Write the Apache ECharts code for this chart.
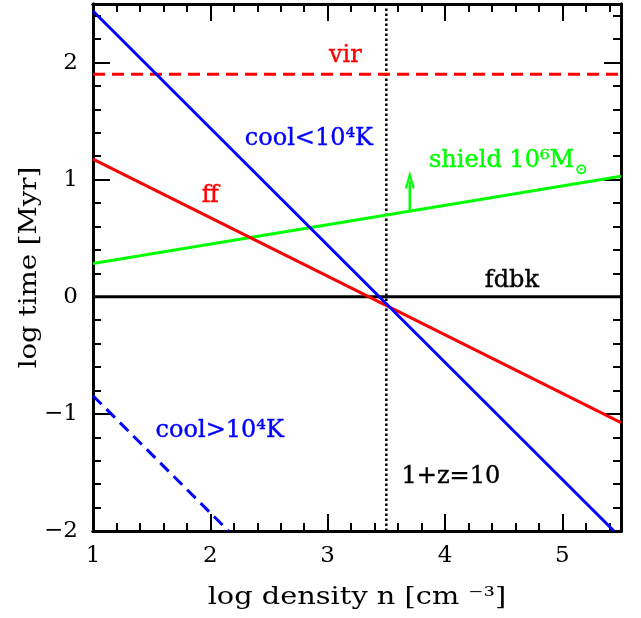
<!DOCTYPE html>
<html>
<head>
<meta charset="utf-8">
<script src="https://cdn.jsdelivr.net/npm/echarts@6/dist/echarts.min.js"></script>
<style>
html, body { margin: 0; background: #fff; }
#main { width: 641px; height: 618px; }
</style>
</head>
<body>
<div id="main"></div>
<script>
// log density (x) and log time (y) values
var xTicks = [1, 2, 3, 4, 5];
var yTicks = [-2, -1, 0, 1, 2];

var fullX = [1, 5.5];
var virTime = [1.9, 1.9];
var fdbkTime = [0, 0];
var ffTime = [1.176, -1.074];
var shieldTime = [0.285, 1.03];
var coolBelowX = [1, 5.44];
var coolBelowTime = [2.44, -2.0];
var coolAboveX = [1, 2.155];
var coolAboveTime = [-0.845, -2.0];
var redshiftX = [3.5, 3.5];
var redshiftTime = [-2, 2.5];
var arrowX = [3.7, 3.7];
var arrowTime = [0.74, 0.985];

var labelText = ['vir', 'cool<10⁴K', 'ff', 'shield', 'fdbk', 'cool>10⁴K', '1+z=10'];
var labelX = [3.15, 2.84, 2.0, 4.54, 4.57, 2.08, 4.05];
var labelY = [2.06, 1.35, 0.86, 1.165, 0.14, -1.14, -1.54];
var labelColor = ['#ff0000', '#0000ff', '#ff0000', '#00ff00', '#000000', '#0000ff', '#000000'];

var xTitle = 'log density n [cm ⁻³]';
var yTitle = 'log time [Myr]';

var FONT = 'DejaVu Serif';

function pairs(xs, ys) {
    return xs.map(function (x, i) { return [x, ys[i]]; });
}

function tickLabel(v) {
    if (xTicks.indexOf(v) < 0 && yTicks.indexOf(v) < 0) return '';
    return v < 0 ? '\u2212' + Math.abs(v) : String(v);
}

function makeAxis(dim, pos, major, showLabel) {
    return {
        type: 'value',
        position: pos,
        gridIndex: 0,
        min: dim === 'x' ? 1 : -2,
        max: dim === 'x' ? 5.5 : 2.5,
        interval: major ? 1 : 0.2,
        axisLine: { show: true, onZero: false, lineStyle: { color: '#000', width: 3 } },
        axisTick: { show: true, inside: true, length: major ? 17 : 8, lineStyle: { color: '#000', width: 2 } },
        axisLabel: {
            show: showLabel, formatter: tickLabel, color: '#000',
            fontFamily: FONT, fontSize: 23, margin: dim === 'x' ? 14 : 15
        },
        splitLine: { show: false }
    };
}

var xAxes = [
    makeAxis('x', 'bottom', true, true),
    makeAxis('x', 'top', true, false),
    makeAxis('x', 'bottom', false, false),
    makeAxis('x', 'top', false, false)
];
var yAxes = [
    makeAxis('y', 'left', true, true),
    makeAxis('y', 'right', true, false),
    makeAxis('y', 'left', false, false),
    makeAxis('y', 'right', false, false)
];

function lineSeries(data, color, width, type) {
    return {
        type: 'line',
        data: data,
        xAxisIndex: 0,
        yAxisIndex: 0,
        symbol: 'none',
        silent: true,
        animation: false,
        lineStyle: { color: color, width: width, type: type || 'solid' }
    };
}

var arrow = lineSeries(pairs(arrowX, arrowTime), '#00ff00', 2.5);
arrow.showSymbol = true;
arrow.symbol = function (value, params) {
    return params.dataIndex === 1 ? 'path://M0,10L5,0L10,10' : 'none';
};
arrow.symbolSize = [8, 14];
arrow.itemStyle = { color: 'none', borderColor: '#00ff00', borderWidth: 2.5 };

var chart = echarts.init(document.getElementById('main'));
chart.setOption({
    animation: false,
    backgroundColor: '#fff',
    grid: { left: 93, right: 20, top: 4, bottom: 87 },
    xAxis: xAxes,
    yAxis: yAxes,
    series: [
        lineSeries(pairs(redshiftX, redshiftTime), '#000', 2.5, 'dotted'),
        lineSeries(pairs(fullX, virTime), '#ff0000', 3, [12, 7]),
        lineSeries(pairs(fullX, fdbkTime), '#000', 3),
        lineSeries(pairs(fullX, shieldTime), '#00ff00', 3),
        lineSeries(pairs(fullX, ffTime), '#ff0000', 3),
        lineSeries(pairs(coolBelowX, coolBelowTime), '#0000ff', 3),
        lineSeries(pairs(coolAboveX, coolAboveTime), '#0000ff', 3, [12, 7]),
        arrow
    ]
});

var texts = labelText.map(function (t, i) {
    var p = chart.convertToPixel({ gridIndex: 0 }, [labelX[i], labelY[i]]);
    var style = {
        text: t, x: p[0], y: p[1], fill: labelColor[i],
        font: '24px "' + FONT + '"', align: 'center', verticalAlign: 'middle',
        stroke: labelColor[i], lineWidth: 0.4
    };
    if (t === 'shield') {
        style.text = '{a|shield 10⁶M}{s|⊙}';
        style.rich = {
            a: { fontFamily: FONT, fontSize: 24, fill: labelColor[i] },
            s: { fontFamily: FONT, fontSize: 15, fill: labelColor[i], padding: [20, 0, 0, 1] }
        };
    }
    return { type: 'text', silent: true, style: style, z: 10 };
});

// axis titles: the original font is wider than DejaVu Serif, so stretch a little
var mid = chart.convertToPixel({ gridIndex: 0 }, [3.25, 0.25]);
texts.push({
    type: 'text', silent: true, x: mid[0], y: 598, scaleX: 1.2,
    style: { text: xTitle, fill: '#000', font: '24px "' + FONT + '"', align: 'center', verticalAlign: 'middle' }
});
texts.push({
    type: 'text', silent: true, x: 30, y: mid[1], rotation: Math.PI / 2, scaleX: 1.15,
    style: { text: yTitle, fill: '#000', font: '24px "' + FONT + '"', align: 'center', verticalAlign: 'middle' }
});
chart.setOption({ graphic: texts });
</script>
</body>
</html>
